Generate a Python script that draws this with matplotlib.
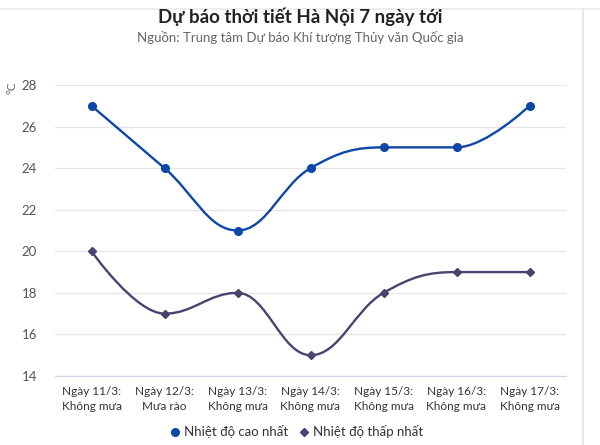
import numpy as np
import matplotlib.pyplot as plt
from matplotlib.path import Path
from matplotlib.patches import PathPatch
from matplotlib.lines import Line2D

plt.rcParams['font.family'] = ['Lato', 'DejaVu Sans']

# Du lieu
days = ['Ngày 11/3:\nKhông mưa', 'Ngày 12/3:\nMưa rào', 'Ngày 13/3:\nKhông mưa',
        'Ngày 14/3:\nKhông mưa', 'Ngày 15/3:\nKhông mưa', 'Ngày 16/3:\nKhông mưa',
        'Ngày 17/3:\nKhông mưa']
t_max = [27, 24, 21, 24, 25, 25, 27]
t_min = [20, 17, 18, 15, 18, 19, 19]
yticks = [14, 16, 18, 20, 22, 24, 26, 28]

c_high = '#0d47a8'
c_low = '#48436f'


# duong spline kieu Highcharts (smoothing 1.5)
def spline_path(xs, ys, sm=1.5):
    n = len(xs)
    d = sm + 1
    lefts, rights = [], []
    for i in range(n):
        x, y = xs[i], ys[i]
        if i == 0 or i == n - 1:
            lefts.append((x, y))
            rights.append((x, y))
            continue
        lx, ly = xs[i - 1], ys[i - 1]
        nx, ny = xs[i + 1], ys[i + 1]
        lcx = (sm * x + lx) / d
        lcy = (sm * y + ly) / d
        rcx = (sm * x + nx) / d
        rcy = (sm * y + ny) / d
        corr = 0
        if rcx != lcx:
            corr = (rcy - lcy) * (rcx - x) / (rcx - lcx) + y - rcy
        lcy += corr
        rcy += corr
        if lcy > ly and lcy > y:
            lcy = max(ly, y)
            rcy = 2 * y - lcy
        elif lcy < ly and lcy < y:
            lcy = min(ly, y)
            rcy = 2 * y - lcy
        if rcy > ny and rcy > y:
            rcy = max(ny, y)
            lcy = 2 * y - rcy
        elif rcy < ny and rcy < y:
            rcy = min(ny, y)
            lcy = 2 * y - rcy
        lefts.append((lcx, lcy))
        rights.append((rcx, rcy))
    verts = [(xs[0], ys[0])]
    codes = [Path.MOVETO]
    for i in range(1, n):
        verts += [rights[i - 1], lefts[i], (xs[i], ys[i])]
        codes += [Path.CURVE4] * 3
    return Path(verts, codes)


fig = plt.figure(figsize=(6, 4.45), dpi=100)
ax = fig.add_axes([55 / 600, 1 - 376 / 445, 511 / 600, 291 / 445])

x = np.arange(len(days))
for ys, col, mk, ms in [(t_max, c_high, 'o', 5.5), (t_min, c_low, 'D', 4)]:
    ax.add_patch(PathPatch(spline_path(x, ys), facecolor='none', edgecolor=col, lw=1.7, zorder=3))
    ax.plot(x, ys, ls='none', marker=mk, color=col, ms=ms, zorder=4)

ax.set_xlim(-0.5, len(days) - 0.5)
ax.set_ylim(14, 28)
ax.set_yticks(yticks)
ax.set_xticks(x)
ax.set_xticklabels(days, fontsize=8.5, color='#333333', linespacing=1.45)
ax.tick_params(axis='y', length=0, labelsize=9.5, colors='#555555', pad=13)
ax.tick_params(axis='x', length=0, pad=7)
ax.grid(axis='y', color='#e6e6e6', lw=1)
ax.set_axisbelow(True)
for s in ['top', 'right', 'left']:
    ax.spines[s].set_visible(False)
ax.spines['bottom'].set_color('#ccd6eb')

fig.text(12 / 600, 1 - 88 / 445, '°C', rotation=90, fontsize=8.5, color='#666666',
         ha='center', va='center')

fig.text(0.5, 1 - 17 / 445, 'Dự báo thời tiết Hà Nội 7 ngày tới', ha='center', va='center',
         fontsize=13.5, fontweight='bold', color='#222222')
fig.text(0.5, 1 - 38 / 445, 'Nguồn: Trung tâm Dự báo Khí tượng Thủy văn Quốc gia', ha='center',
         va='center', fontsize=9.5, color='#666666')

# khung trang web
fig.add_artist(Line2D([0, 1], [1 - 9 / 445, 1 - 9 / 445], color='#eeeeee', lw=1.5))
fig.add_artist(Line2D([583 / 600, 583 / 600], [0, 1 - 9 / 445], color='#e8e8e8', lw=1.5))

handles = [Line2D([], [], ls='none', marker='o', color=c_high, ms=5.5),
           Line2D([], [], ls='none', marker='D', color=c_low, ms=4)]
fig.legend(handles, ['Nhiệt độ cao nhất', 'Nhiệt độ thấp nhất'], loc='center',
           bbox_to_anchor=(295 / 600, 1 - 432 / 445), ncol=2, frameon=False, fontsize=9.5,
           handletextpad=0.1, columnspacing=0.6, handlelength=1.2, labelcolor='#333333')

fig.savefig('out.png', dpi=100)
